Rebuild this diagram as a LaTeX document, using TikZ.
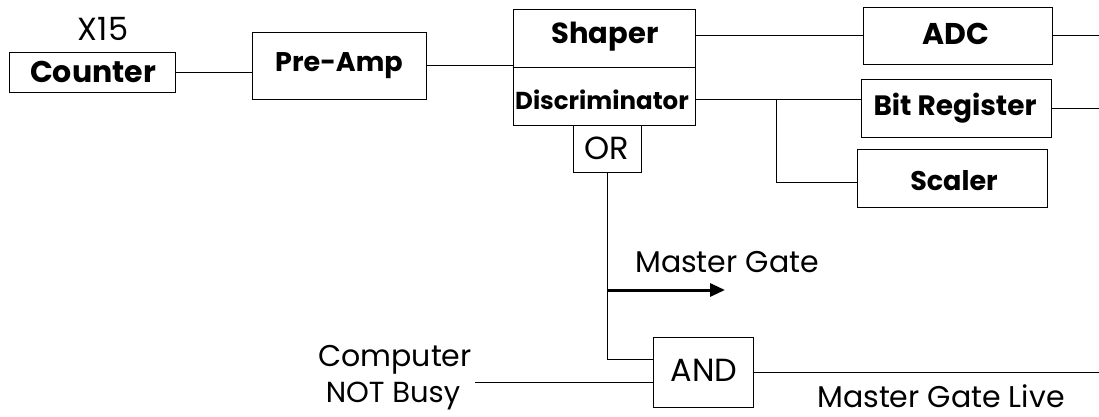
\documentclass[tikz,border=0pt]{standalone}
\usepackage{fontspec}
\setmainfont{Poppins}
\usetikzlibrary{calc,arrows.meta}
\newcommand\fsz[1]{\fontsize{#1}{#1}\selectfont}
\tikzset{
  blk/.style={draw=black, line width=0.8pt, inner sep=0pt, rectangle},
  wire/.style={draw=black, line width=0.8pt},
  lbl/.style={inner sep=0pt, font=\fsz{30}},
  blbl/.style={inner sep=0pt, font=\fsz{28}\bfseries},
  bigarrow/.style={draw=black, line width=3pt, -{Triangle[length=15pt,width=13pt]}},
}
\begin{document}
\begin{tikzpicture}[x=1pt,y=1pt]
\useasboundingbox (0,0) rectangle (1099,-417);
% boxes
\node[blk, minimum width=166, minimum height=40] (counter) at (92,-72) {};
\node[blbl, font=\fsz{30}\bfseries] (countert) at (93,-72) {Counter};
\node[lbl, font=\fsz{32}] (x15) at (103,-29) {X15};
\node[blk, minimum width=174, minimum height=67] (preamp) at (339,-65.5) {};
\node[blbl, font=\fsz{27}\bfseries] (preampt) at (339,-66) {Pre-Amp};
\node[blk, minimum width=182, minimum height=116] (shaper) at (604,-67) {};
\node[blbl, font=\fsz{29}\bfseries] (shapert) at (605,-37) {Shaper};
\node[blbl, font=\fsz{24.5}\bfseries] (disct) at (602,-100) {Discriminator};
\node[blk, minimum width=189, minimum height=57] (adc) at (957.5,-35.5) {};
\node[blbl, font=\fsz{30}\bfseries] (adct) at (956,-34) {ADC};
\node[blk, minimum width=190, minimum height=58] (bitreg) at (956,-108) {};
\node[blbl, font=\fsz{28}\bfseries] (bitregt) at (955,-108) {Bit Register};
\node[blk, minimum width=190, minimum height=58] (scaler) at (952,-178) {};
\node[blbl, font=\fsz{27}\bfseries] (scalert) at (954,-181) {Scaler};
\node[blk, minimum width=68, minimum height=47] (or) at (607,-148.5) {};
\node[lbl, font=\fsz{32}] (ort) at (607,-148.5) {OR};
\node[blk, minimum width=100, minimum height=70] (and) at (703,-372) {};
\node[lbl, font=\fsz{32}] (andt) at (704,-370) {AND};
\node[lbl] (comp) at (395,-360) {Computer};
\node[lbl, font=\fsz{29}] (nbusy) at (393,-396) {NOT Busy};
\node[lbl] (mg) at (727,-262) {Master Gate};
\node[lbl] (mgl) at (941,-396) {Master Gate Live};
% coordinates
\coordinate (R) at (1099,0);
\coordinate (d) at ($(shaper.south east)+(0,26)$);
\coordinate (br) at (776,-99);
\coordinate (mgs) at (607,-290);
\coordinate (mge) at (725,-290);
\coordinate (cin) at (475,-382);
% wires
\draw[wire] (counter.east) -- (counter.east -| preamp.west);
\draw[wire] (preamp.east) -- (preamp.east -| shaper.west);
\draw[wire] (shaper.west) -- (shaper.east);
\draw[wire] (adc.west -| shaper.east) -- (adc.west);
\draw[wire] (adc.east) -- (adc.east -| R);
\draw[wire] (d) -- (d -| bitreg.west);
\draw[wire] (bitreg.east) -- (bitreg.east -| R);
\draw[wire] (br) |- ($(scaler.west)+(0,-4)$);
\draw[wire] (or.south) |- ($(and.west)+(0,13)$);
\draw[bigarrow] (mgs) -- (mge);
\draw[wire] (cin) -- (cin -| and.west);
\draw[wire] (and.east) -- (and.east -| R);
\end{tikzpicture}
\end{document}
